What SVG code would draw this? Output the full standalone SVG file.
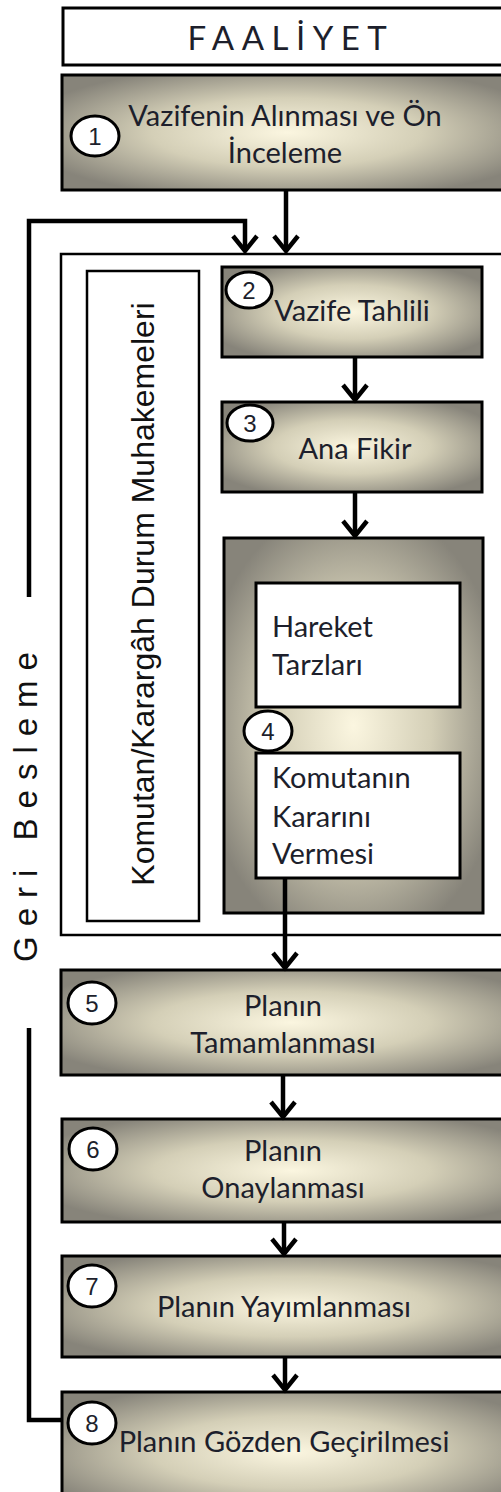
<svg xmlns="http://www.w3.org/2000/svg" width="501" height="1492" viewBox="0 0 501 1492">
<style>
.box{stroke:#000;stroke-width:3;fill:url(#g)}
.wbox{stroke:#000;stroke-width:3;fill:#fff}
.frame{stroke:#000;stroke-width:2.5;fill:#fff}
.num{fill:#fff;stroke:#000;stroke-width:3}
.t{font-family:Lato,"Open Sans","Liberation Sans",sans-serif;font-size:29px;fill:#1d1f2c}
.c{text-anchor:middle}
.n{font-family:"Liberation Sans",Arial,sans-serif;font-size:24px;fill:#1d1f2c;text-anchor:middle}
.v{font-family:"Liberation Sans",Arial,sans-serif;font-size:32px;fill:#111;text-anchor:middle}
.ln{fill:none;stroke:#000;stroke-width:4.5}
</style>
<defs>
<radialGradient id="g" cx="0.5" cy="0.5" r="0.6">
<stop offset="0" stop-color="#fbf6e0"/>
<stop offset="0.5" stop-color="#d4cfb7"/>
<stop offset="1" stop-color="#87847a"/>
</radialGradient>
<marker id="ah" markerUnits="userSpaceOnUse" markerWidth="30" markerHeight="30" viewBox="-20 -15 24 30" refX="0" refY="0" orient="auto" overflow="visible">
<path d="M-15,-12 L0,0 L-15,12" fill="none" stroke="#000" stroke-width="4.5"/>
</marker>
</defs>
<rect width="501" height="1492" fill="#fff"/>

<g id="header">
<rect x="63" y="8" width="460" height="57" fill="#fff" stroke="#000" stroke-width="3"/>
<text x="291" y="50" class="t c" style="font-size:33px;letter-spacing:7.5px">FAALİYET</text>
</g>

<g id="n1">
<rect x="62" y="75" width="450" height="115" class="box"/>
<ellipse cx="95" cy="136" rx="24" ry="20" class="num"/>
<text x="95" y="145" class="n">1</text>
<text x="285" y="126" class="t c">Vazifenin Alınması ve Ön</text>
<text x="285" y="163" class="t c">İnceleme</text>
</g>

<g id="frame">
<rect x="61" y="254" width="460" height="681" class="frame"/>
</g>

<g id="durum">
<rect x="87" y="271" width="112" height="650" fill="#fff" stroke="#000" stroke-width="2.5"/>
<text transform="translate(154,594) rotate(-90)" class="v">Komutan/Karargâh Durum Muhakemeleri</text>
</g>

<g id="n2">
<rect x="222" y="267" width="260" height="90" class="box"/>
<ellipse cx="249" cy="290" rx="23" ry="18" class="num"/>
<text x="249" y="299" class="n">2</text>
<text x="352" y="321" class="t c">Vazife Tahlili</text>
</g>

<g id="n3">
<rect x="222" y="402" width="260" height="90" class="box"/>
<ellipse cx="250" cy="423" rx="23" ry="18" class="num"/>
<text x="250" y="432" class="n">3</text>
<text x="355" y="459" class="t c">Ana Fikir</text>
</g>

<g id="n4">
<rect x="224" y="538" width="259" height="375" class="box"/>
<rect x="256" y="583" width="204" height="124" class="wbox"/>
<text x="272" y="637" class="t">Hareket</text>
<text x="272" y="675" class="t">Tarzları</text>
<rect x="256" y="753" width="204" height="125" class="wbox"/>
<text x="272" y="788" class="t">Komutanın</text>
<text x="272" y="827" class="t">Kararını</text>
<text x="272" y="864" class="t">Vermesi</text>
<ellipse cx="268" cy="731" rx="24" ry="20" class="num"/>
<text x="268" y="740" class="n">4</text>
</g>

<g id="n5">
<rect x="61" y="970" width="460" height="105" class="box"/>
<ellipse cx="92" cy="1003" rx="24" ry="21" class="num"/>
<text x="92" y="1012" class="n">5</text>
<text x="283" y="1016" class="t c">Planın</text>
<text x="283" y="1053" class="t c">Tamamlanması</text>
</g>

<g id="n6">
<rect x="62" y="1119" width="460" height="103" class="box"/>
<ellipse cx="93" cy="1149" rx="24" ry="21" class="num"/>
<text x="93" y="1158" class="n">6</text>
<text x="283" y="1161" class="t c">Planın</text>
<text x="283" y="1198" class="t c">Onaylanması</text>
</g>

<g id="n7">
<rect x="62" y="1256" width="460" height="101" class="box"/>
<ellipse cx="92" cy="1286" rx="24" ry="21" class="num"/>
<text x="92" y="1295" class="n">7</text>
<text x="284" y="1317" class="t c">Planın Yayımlanması</text>
</g>

<g id="n8">
<rect x="62" y="1392" width="460" height="120" class="box"/>
<ellipse cx="92" cy="1423" rx="24" ry="21" class="num"/>
<text x="92" y="1432" class="n">8</text>
<text x="284" y="1452" class="t c">Planın Gözden Geçirilmesi</text>
</g>

<g id="feedback-label">
<text transform="translate(37,802) rotate(-90)" class="v" style="font-size:33px;letter-spacing:10px">Geri Besleme</text>
</g>

<g id="connectors">
<path class="ln" d="M286,190 V251" marker-end="url(#ah)"/>
<path class="ln" d="M29,597 V221 H245 V251" marker-end="url(#ah)"/>
<path class="ln" d="M62,1420 H29 V1028"/>
<path class="ln" d="M355,357 V400" marker-end="url(#ah)"/>
<path class="ln" d="M355,492 V536" marker-end="url(#ah)"/>
<path class="ln" d="M285,878 V968" marker-end="url(#ah)"/>
<path class="ln" d="M283,1075 V1117" marker-end="url(#ah)"/>
<path class="ln" d="M284,1222 V1254" marker-end="url(#ah)"/>
<path class="ln" d="M285,1357 V1390" marker-end="url(#ah)"/>
</g>
</svg>
